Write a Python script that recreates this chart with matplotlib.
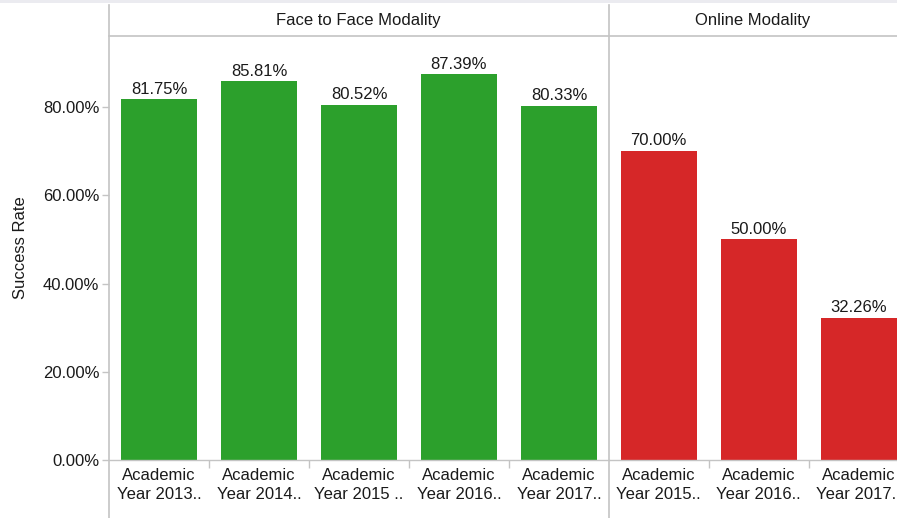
import matplotlib
matplotlib.use("Agg")
import matplotlib.pyplot as plt
from matplotlib.lines import Line2D
from matplotlib.patches import Rectangle

plt.rcParams['font.family'] = ['Liberation Sans', 'DejaVu Sans']

face_labels = ["Academic\nYear 2013..", "Academic\nYear 2014..", "Academic\nYear 2015 ..",
               "Academic\nYear 2016..", "Academic\nYear 2017.."]
face_values = [81.75, 85.81, 80.52, 87.39, 80.33]
online_labels = ["Academic\nYear 2015..", "Academic\nYear 2016..", "Academic\nYear 2017.."]
online_values = [70.00, 50.00, 32.26]
panel_titles = ["Face to Face Modality", "Online Modality"]
yticks = [0, 20, 40, 60, 80]

W, H = 897, 518
fig = plt.figure(figsize=(W / 100, H / 100), dpi=100)

GRID = "#c4c4c4"
GREEN = "#2ca02c"
RED = "#d62728"
TXT = "#1a1a1a"
FS = 12

def fx(px):
    return px / W

def fy(py):
    return 1 - py / H

y_top_px, y_base_px = 36, 460
x_left, x_div, x_right = 109, 608.5, 897
ymax = (y_base_px - y_top_px) / ((y_base_px - 107) / 80.0)

ax1 = fig.add_axes([fx(x_left), fy(y_base_px), fx(x_div - x_left), fy(y_top_px) - fy(y_base_px)])
ax2 = fig.add_axes([fx(x_div), fy(y_base_px), fx(x_right - x_div), fy(y_top_px) - fy(y_base_px)])

def draw(ax, labels, values, color, ncat_px):
    xs = list(range(len(values)))
    bars = ax.bar(xs, values, width=0.76, color=color, zorder=2)
    for b, v in zip(bars, values):
        ax.annotate(f"{v:.2f}%", (b.get_x() + b.get_width() / 2, v), xytext=(0, 2),
                    textcoords="offset points", ha="center", va="bottom", fontsize=FS, color=TXT)
    ax.set_ylim(0, ymax)
    ax.set_xlim(-0.5, -0.5 + ncat_px / 100.0)
    ax.set_xticks(xs)
    ax.set_xticklabels(labels, fontsize=FS, color=TXT, linespacing=1.3)
    ax.set_xticks([x + 0.5 for x in xs[:-1]], minor=True)
    ax.tick_params(axis="x", which="major", length=0, pad=6)
    ax.tick_params(axis="x", which="minor", length=6, color=GRID, width=1)
    for s in ["top", "right", "left"]:
        ax.spines[s].set_visible(False)
    ax.spines["bottom"].set_color(GRID)
    ax.spines["bottom"].set_linewidth(1)
    ax.set_facecolor("none")

draw(ax1, face_labels, face_values, GREEN, x_div - x_left)
draw(ax2, online_labels, online_values, RED, x_right - x_div)

ax1.set_yticks(yticks)
ax1.set_yticklabels([f"{t:.2f}%" for t in yticks], fontsize=FS, color=TXT)
ax1.tick_params(axis="y", length=5, color=GRID, width=1, pad=2)
ax1.set_ylabel("Success Rate", fontsize=FS, color=TXT, labelpad=11)
ax2.set_yticks([])

# frame lines
fig.add_artist(Rectangle((0, fy(3)), 1, fy(0) - fy(3), transform=fig.transFigure,
                         color="#ebebf0", lw=0))
fig.add_artist(Line2D([fx(x_left), fx(x_left)], [fy(5), fy(518)], color=GRID, lw=1.2))
fig.add_artist(Line2D([fx(x_div), fx(x_div)], [fy(5), fy(518)], color=GRID, lw=1.2))
fig.add_artist(Line2D([fx(x_left), 1], [fy(y_top_px), fy(y_top_px)], color=GRID, lw=1.2))

fig.text(fx((x_left + x_div) / 2), fy(20.5), panel_titles[0], ha="center", va="center",
         fontsize=FS, color=TXT)
fig.text(fx((x_div + x_right) / 2), fy(20.5), panel_titles[1], ha="center", va="center",
         fontsize=FS, color=TXT)

fig.savefig("out.png", dpi=100)
